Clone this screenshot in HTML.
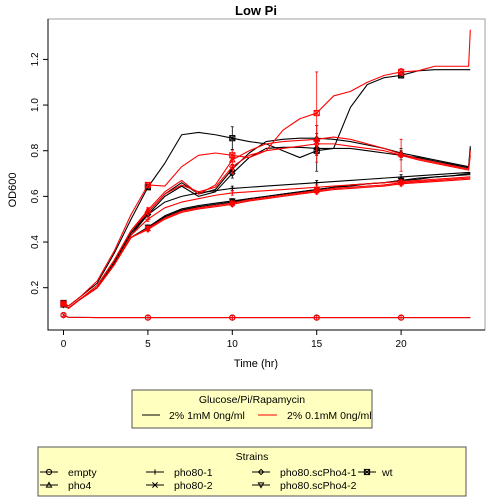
<!DOCTYPE html>
<html><head><meta charset="utf-8"><style>
body{margin:0;background:#fff}svg{display:block;font-family:"Liberation Sans",sans-serif}
</style></head><body>
<svg id="c" width="504" height="504" viewBox="0 0 504 504">
<text x="256" y="15" text-anchor="middle" font-weight="bold" font-size="13">Low Pi</text>
<text transform="translate(16,190) rotate(-90)" text-anchor="middle" font-size="11">OD600</text>
<text x="256" y="367" text-anchor="middle" font-size="11">Time (hr)</text>
<rect x="48" y="19" width="437" height="311" fill="none" stroke="#a0a0a0" stroke-width="1"/>
<path d="M48 19V330H485" fill="none" stroke="#000"/>
<g id="axes"></g><g id="series"></g>
<g>
<rect x="132" y="390" width="240" height="38" fill="#ffffbf" stroke="#555"/>
<text x="252" y="403" text-anchor="middle" font-size="10.5">Glucose/Pi/Rapamycin</text>
<line x1="142" y1="415" x2="160" y2="415" stroke="#000"/>
<text x="169" y="419" font-size="10.5">2% 1mM 0ng/ml</text>
<line x1="258" y1="415" x2="277" y2="415" stroke="#f00"/>
<text x="287" y="419" font-size="10.5">2% 0.1mM 0ng/ml</text>
</g>
<g id="leg2">
<rect x="38" y="447" width="428" height="49" fill="#ffffbf" stroke="#555"/>
<text x="252" y="460" text-anchor="middle" font-size="10.5">Strains</text>
</g>
</svg>
<script>
const times=[0,0.3,1,2,3,4,5,6,7,8,9,10,11,12,13,14,15,16,17,18,19,20,21,22,23,24,24.1];
const xTicks=[0,5,10,15,20];
const yTicks=[0.2,0.4,0.6,0.8,1.0,1.2];
const markTimes=[0,5,10,15,20];
const strains=["empty","pho4","pho80-1","pho80-2","pho80.scPho4-1","pho80.scPho4-2","wt"];
const emptyBlack=[0.08,0.07,0.07,0.069,0.069,0.069,0.069,0.069,0.069,0.069,0.069,0.069,0.069,0.069,0.069,0.069,0.069,0.069,0.069,0.069,0.069,0.069,0.069,0.069,0.069,0.069,0.069];
const emptyRed=[0.08,0.07,0.07,0.069,0.069,0.069,0.069,0.069,0.069,0.069,0.069,0.069,0.069,0.069,0.069,0.069,0.069,0.069,0.069,0.069,0.069,0.069,0.069,0.069,0.069,0.069,0.069];
const pho4Black=[0.125,0.11,0.15,0.20,0.31,0.44,0.53,0.61,0.66,0.61,0.63,0.72,0.79,0.84,0.85,0.855,0.855,0.85,0.84,0.825,0.81,0.79,0.775,0.76,0.745,0.73,0.82];
const pho4Red=[0.13,0.11,0.15,0.21,0.32,0.45,0.54,0.62,0.67,0.61,0.65,0.76,0.80,0.83,0.84,0.845,0.85,0.86,0.85,0.83,0.81,0.785,0.765,0.75,0.735,0.72,0.80];
const pho801Black=[0.125,0.11,0.15,0.20,0.30,0.43,0.52,0.575,0.60,0.615,0.625,0.635,0.64,0.645,0.65,0.655,0.66,0.665,0.67,0.675,0.68,0.685,0.69,0.695,0.70,0.705,0.705];
const pho801Red=[0.13,0.11,0.15,0.20,0.30,0.43,0.50,0.55,0.575,0.59,0.605,0.615,0.62,0.625,0.63,0.635,0.64,0.645,0.65,0.655,0.66,0.665,0.67,0.675,0.68,0.685,0.685];
const pho802Black=[0.125,0.11,0.15,0.20,0.30,0.42,0.46,0.51,0.54,0.555,0.565,0.575,0.59,0.60,0.61,0.62,0.63,0.64,0.65,0.655,0.66,0.67,0.68,0.685,0.69,0.70,0.70];
const pho802Red=[0.13,0.11,0.15,0.20,0.30,0.42,0.46,0.505,0.535,0.55,0.56,0.57,0.585,0.595,0.605,0.615,0.625,0.635,0.64,0.645,0.65,0.66,0.665,0.67,0.675,0.68,0.68];
const sc1Black=[0.125,0.11,0.15,0.20,0.31,0.44,0.52,0.60,0.645,0.60,0.62,0.70,0.77,0.81,0.815,0.815,0.81,0.81,0.81,0.80,0.79,0.78,0.77,0.755,0.74,0.725,0.81];
const sc1Red=[0.13,0.11,0.15,0.21,0.32,0.45,0.53,0.61,0.65,0.62,0.64,0.73,0.78,0.80,0.81,0.82,0.83,0.83,0.82,0.81,0.80,0.78,0.76,0.745,0.73,0.715,0.78];
const sc2Black=[0.125,0.11,0.15,0.20,0.30,0.42,0.465,0.515,0.545,0.56,0.57,0.58,0.59,0.60,0.61,0.62,0.63,0.64,0.645,0.655,0.66,0.67,0.675,0.685,0.69,0.695,0.695];
const sc2Red=[0.13,0.11,0.15,0.20,0.30,0.42,0.455,0.50,0.53,0.545,0.555,0.565,0.58,0.59,0.60,0.61,0.62,0.63,0.635,0.64,0.645,0.655,0.66,0.665,0.67,0.675,0.675];
const wtBlack=[0.133,0.12,0.16,0.22,0.35,0.50,0.64,0.745,0.87,0.88,0.87,0.855,0.84,0.83,0.80,0.77,0.80,0.81,0.99,1.09,1.12,1.13,1.15,1.155,1.155,1.155,1.155];
const wtRed=[0.13,0.12,0.16,0.23,0.36,0.52,0.65,0.645,0.73,0.78,0.79,0.78,0.77,0.80,0.89,0.94,0.965,1.04,1.06,1.10,1.13,1.145,1.15,1.17,1.17,1.17,1.33];
const wtBlackErr=[0.01,0.01,0.05,0.02,0.01];
const wtRedErr=[0.01,0.01,0.02,0.18,0.015];
const sc1RedErr=[0.01,0.02,0.03,0.08,0.07];
const sc1BlackErr=[0.01,0.01,0.02,0.1,0.02];
const pho4BlackErr=[0.01,0.01,0.02,0.02,0.02];
const zeroErr=[0.005,0.01,0.01,0.01,0.01];

const X=t=>63.5+t*16.88, Y=v=>287.7-(v-0.2)*228.3;
const NS="http://www.w3.org/2000/svg";
function mk(tag,at,p){const e=document.createElementNS(NS,tag);for(const k in at)e.setAttribute(k,at[k]);p.appendChild(e);return e;}
const ax=document.getElementById('axes');
xTicks.forEach(t=>{const l=mk('line',{x1:X(t),y1:330,x2:X(t),y2:335,stroke:'#000'},ax);


const tx=mk('text',{x:X(t),y:347,'text-anchor':'middle','font-size':10},ax);tx.textContent=t;

});
yTicks.forEach(v=>{const l=mk('line',{x1:43,y1:Y(v),x2:48,y2:Y(v),stroke:'#000'},ax);


const tx=mk('text',{transform:`translate(38,${Y(v)}) rotate(-90)`,'text-anchor':'middle','font-size':10},ax);tx.textContent=v.toFixed(1);

});

function marker(p,x,y,shape,col){
 const s=2.6;
 if(shape==='circle')mk('circle',{cx:x,cy:y,r:s,fill:'none',stroke:col},p);
 else if(shape==='tri')mk('polygon',{points:`${x},${y-s} ${x-s},${y+s*0.8} ${x+s},${y+s*0.8}`,fill:'none',stroke:col},p);
 else if(shape==='plus'){mk('path',{d:`M${x-s} ${y}H${x+s}M${x} ${y-s}V${y+s}`,stroke:col},p);}
 else if(shape==='x'){mk('path',{d:`M${x-s} ${y-s}L${x+s} ${y+s}M${x-s} ${y+s}L${x+s} ${y-s}`,stroke:col},p);}
 else if(shape==='diamond')mk('polygon',{points:`${x},${y-s} ${x+s},${y} ${x},${y+s} ${x-s},${y}`,fill:'none',stroke:col},p);
 else if(shape==='itri')mk('polygon',{points:`${x},${y+s} ${x-s},${y-s*0.8} ${x+s},${y-s*0.8}`,fill:'none',stroke:col},p);
 else {mk('rect',{x:x-s,y:y-s,width:2*s,height:2*s,fill:'none',stroke:col},p);mk('path',{d:`M${x-s} ${y-s}L${x+s} ${y+s}M${x-s} ${y+s}L${x+s} ${y-s}`,stroke:col},p);}
}
const shapes=['circle','tri','plus','x','diamond','itri','sq'];
const series=[
 ['empty-black',emptyBlack,'#000',0,zeroErr],['pho4-black',pho4Black,'#000',1,pho4BlackErr],['pho80-1-black',pho801Black,'#000',2,zeroErr],
 ['pho80-2-black',pho802Black,'#000',3,zeroErr],['scpho4-1-black',sc1Black,'#000',4,sc1BlackErr],['scpho4-2-black',sc2Black,'#000',5,zeroErr],
 ['wt-black',wtBlack,'#000',6,wtBlackErr],
 ['empty-red',emptyRed,'#f00',0,zeroErr],['pho4-red',pho4Red,'#f00',1,zeroErr],['pho80-1-red',pho801Red,'#f00',2,zeroErr],
 ['pho80-2-red',pho802Red,'#f00',3,zeroErr],['scpho4-1-red',sc1Red,'#f00',4,sc1RedErr],['scpho4-2-red',sc2Red,'#f00',5,zeroErr],
 ['wt-red',wtRed,'#f00',6,wtRedErr]];
const sg=document.getElementById('series');
series.forEach(([name,vals,col,si,err])=>{
 const g=mk('g',{},sg);
 
 
 const pl=mk('polyline',{points:vals.map((v,i)=>X(times[i])+','+Y(v)).join(' '),fill:'none',stroke:col,'stroke-width':1.1,'stroke-linejoin':'round'},g);
 
 
 markTimes.forEach((t,j)=>{const i=times.indexOf(t);const x=X(t),v=vals[i],e=err[j];
  mk('path',{d:`M${x} ${Y(v+e)}V${Y(v-e)}M${x-1.5} ${Y(v+e)}H${x+1.5}M${x-1.5} ${Y(v-e)}H${x+1.5}`,stroke:col,'stroke-width':0.8},g);
  marker(g,x,Y(v),shapes[si],col);});
});
const lg=document.getElementById('leg2');
const cols=[[40,68],[146,174],[252,280],[358,382]];
strains.forEach((s,i)=>{const c=i<6?Math.floor(i/2):3;const r=i<6?i%2:0;const [lx,tx]=cols[c];const y=472+r*13;
 const g=mk('g',{},lg);
 
 
 mk('line',{x1:lx,y1:y,x2:lx+18,y2:y,stroke:'#000'},g);marker(g,lx+9,y,shapes[i],'#000');
 const t=mk('text',{x:tx,y:y+4,'font-size':10.5},g);t.textContent=s;});
</script>
</body></html>
